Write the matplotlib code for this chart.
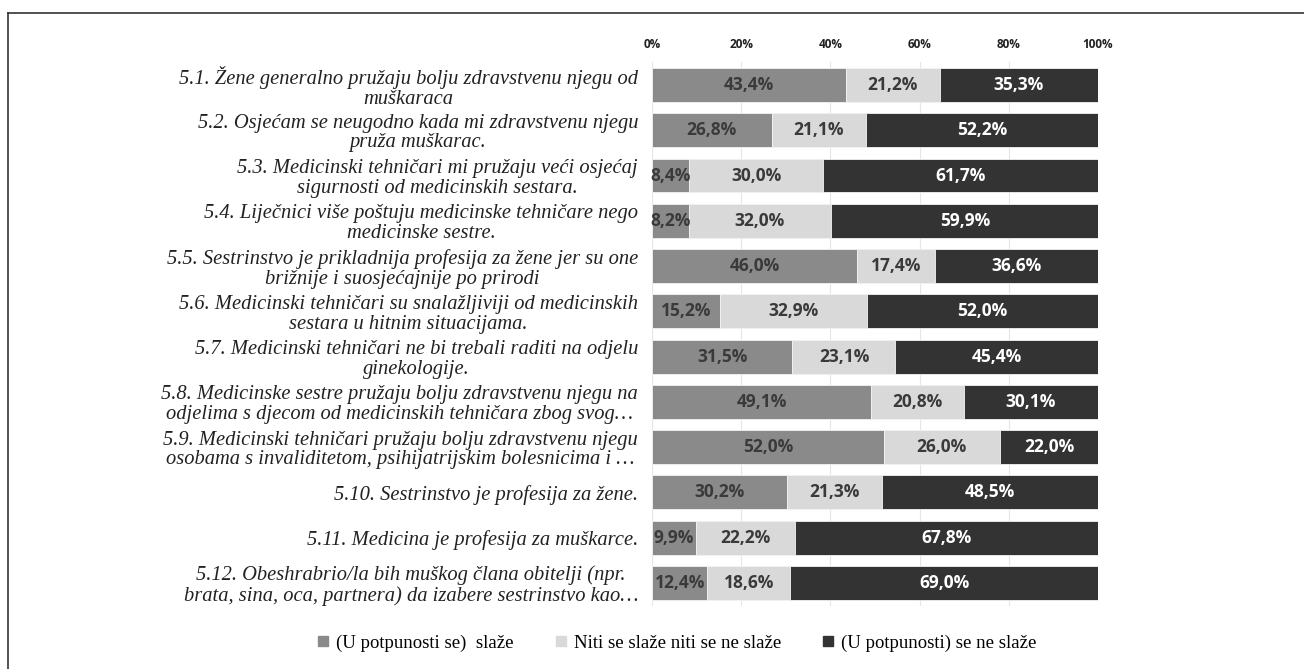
import numpy as np
import matplotlib.pyplot as plt
from matplotlib.lines import Line2D

questions = [
    "5.1. Žene generalno pružaju bolju zdravstvenu njegu od\nmuškaraca",
    "5.2. Osjećam se neugodno kada mi zdravstvenu njegu\npruža muškarac.",
    "5.3. Medicinski tehničari mi pružaju veći osjećaj\nsigurnosti od medicinskih sestara.",
    "5.4. Liječnici više poštuju medicinske tehničare nego\nmedicinske sestre.",
    "5.5. Sestrinstvo je prikladnija profesija za žene jer su one\nbrižnije i suosjećajnije po prirodi",
    "5.6. Medicinski tehničari su snalažljiviji od medicinskih\nsestara u hitnim situacijama.",
    "5.7. Medicinski tehničari ne bi trebali raditi na odjelu\nginekologije.",
    "5.8. Medicinske sestre pružaju bolju zdravstvenu njegu na\nodjelima s djecom od medicinskih tehničara zbog svog…",
    "5.9. Medicinski tehničari pružaju bolju zdravstvenu njegu\nosobama s invaliditetom, psihijatrijskim bolesnicima i …",
    "5.10. Sestrinstvo je profesija za žene.",
    "5.11. Medicina je profesija za muškarce.",
    "5.12. Obeshrabrio/la bih muškog člana obitelji (npr.\nbrata, sina, oca, partnera) da izabere sestrinstvo kao…",
]
agree = [43.4, 26.8, 8.4, 8.2, 46.0, 15.2, 31.5, 49.1, 52.0, 30.2, 9.9, 12.4]
neutral = [21.2, 21.1, 30.0, 32.0, 17.4, 32.9, 23.1, 20.8, 26.0, 21.3, 22.2, 18.6]
disagree = [35.3, 52.2, 61.7, 59.9, 36.6, 52.0, 45.4, 30.1, 22.0, 48.5, 67.8, 69.0]
series_names = ["(U potpunosti se)  slaže", "Niti se slaže niti se ne slaže",
                "(U potpunosti) se ne slaže"]

colors = ["#8a8a8a", "#d9d9d9", "#333333"]
text_colors = ["#3a3a3a", "#3a3a3a", "white"]

fig = plt.figure(figsize=(13.04, 6.69), dpi=100)
ax = fig.add_axes([0.5, 0.0948, 0.342, 0.812])

y = np.arange(len(questions))
series = [agree, neutral, disagree]
left = np.zeros(len(questions))
for vals, c, tc in zip(series, colors, text_colors):
    vals = np.array(vals)
    bars = ax.barh(y, vals, left=left, height=0.75, color=c, edgecolor="#f2f2f2",
                   linewidth=0.6, zorder=3)
    for b, v in zip(bars, vals):
        ax.text(b.get_x() + b.get_width() / 2, b.get_y() + b.get_height() / 2,
                f"{v:.1f}%".replace(".", ","), ha="center", va="center",
                color=tc, fontsize=12.5, fontweight="bold", family="Open Sans", zorder=4)
    left += vals

ax.set_xlim(0, 100)
ax.set_ylim(len(questions) - 0.5, -0.5)
ax.set_xticks(np.arange(0, 101, 20))
ax.set_xticklabels([f"{t}%" for t in range(0, 101, 20)], fontsize=8.5,
                   fontweight="bold", family="Open Sans", color="#222222")
ax.xaxis.tick_top()
ax.tick_params(axis="x", length=0, pad=8)
ax.tick_params(axis="y", length=0, pad=10)
ax.set_yticks(y)
ax.set_yticklabels(questions, fontsize=14.8, family="Liberation Serif", style="italic",
                   color="#222222", multialignment="center", linespacing=1.05)
ax.grid(axis="x", color="#e6e6e6", linewidth=0.8, zorder=0)
for s in ax.spines.values():
    s.set_visible(False)

handles = [Line2D([], [], marker="s", linestyle="none", markersize=7,
                  markerfacecolor=c, markeredgecolor=c) for c in colors]
fig.legend(handles, series_names, loc="center", bbox_to_anchor=(0.514, 0.039), ncol=3,
           frameon=False, prop={"family": "Liberation Serif", "size": 13.5},
           handletextpad=-0.3, columnspacing=1.5)

# frame lines (top and left)
fig.add_artist(Line2D([0.006, 1.0], [0.981, 0.981], color="#333333", linewidth=1.2))
fig.add_artist(Line2D([0.006, 0.006], [0.0, 0.981], color="#333333", linewidth=1.2))

fig.savefig("out.png", dpi=100)
